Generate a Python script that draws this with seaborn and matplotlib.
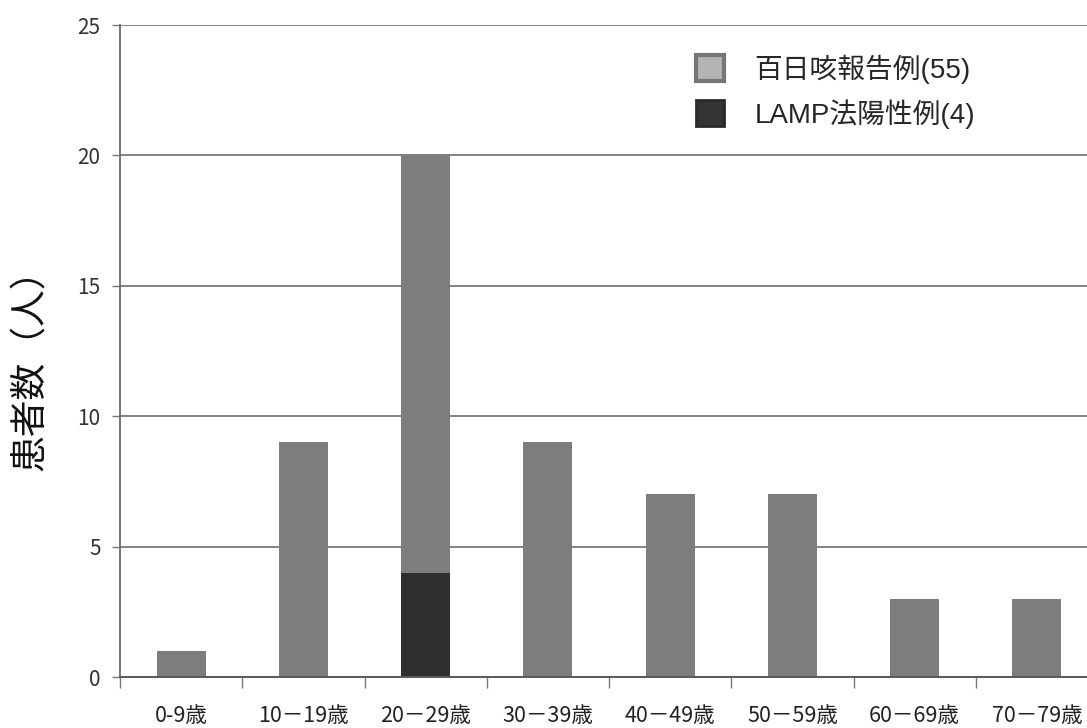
import numpy as np
import pandas as pd
import matplotlib
matplotlib.use("Agg")
import matplotlib.pyplot as plt
from matplotlib.patches import Patch
import seaborn as sns

# Age groups and case counts
age_groups = ["0-9歳", "10－19歳", "20－29歳", "30－39歳",
              "40－49歳", "50－59歳", "60－69歳", "70－79歳"]
pertussis_reports = [1, 9, 16, 9, 7, 7, 3, 3]   # 百日咳報告例 (excluding LAMP-positive)
lamp_positive = [0, 0, 4, 0, 0, 0, 0, 0]        # LAMP法陽性例
legend_labels = ["百日咳報告例(55)", "LAMP法陽性例(4)"]
y_ticks = [0, 5, 10, 15, 20, 25]
y_label = "患者数（人）"

sns.set_style("white")
plt.rcParams["font.family"] = ["Noto Sans CJK JP", "DejaVu Sans"]

df = pd.DataFrame({
    "age": age_groups,
    "total": np.array(pertussis_reports) + np.array(lamp_positive),
    "lamp": lamp_positive,
})

fig = plt.figure(figsize=(10.87, 7.28), dpi=100)
ax = fig.add_axes([120 / 1087, 51 / 728, 978 / 1087, 652 / 728])

bar_gray = "#7d7d7d"
bar_dark = "#2f2f2f"

sns.barplot(data=df, x="age", y="total", color=bar_gray, saturation=1,
            width=0.40, ax=ax, linewidth=0)
sns.barplot(data=df, x="age", y="lamp", color=bar_dark, saturation=1,
            width=0.40, ax=ax, linewidth=0)

ax.set_xlim(-0.5, len(age_groups) - 0.5)
ax.set_ylim(0, 25)
ax.set_yticks(y_ticks)
ax.set_xlabel("")
ax.set_ylabel(y_label, fontsize=26.5, color="#111111")
ax.yaxis.set_label_coords(-0.072, 0.485)

# horizontal gridlines behind the bars
ax.set_axisbelow(True)
ax.yaxis.grid(True, color="#6e6e6e", linewidth=1.2)
ax.xaxis.grid(False)

for side in ("top", "right"):
    ax.spines[side].set_visible(False)
ax.spines["left"].set_color("#6a6a6a")
ax.spines["left"].set_linewidth(1.3)
ax.spines["bottom"].set_color("#5a5a5a")
ax.spines["bottom"].set_linewidth(1.4)

ax.tick_params(axis="y", direction="out", length=6, width=1, color="#777777",
               labelsize=15, labelcolor="#333333", pad=8, left=True)
# category boundaries carry the tick marks; labels sit at the centres
ax.set_xticks(np.arange(len(age_groups) + 1) - 0.5, minor=True)
ax.tick_params(axis="x", which="minor", direction="out", length=8, width=1,
               color="#777777", bottom=True)
ax.tick_params(axis="x", which="major", length=0, labelsize=15.5,
               labelcolor="#222222", pad=20)

handles = [
    Patch(facecolor="#b4b4b4", edgecolor="#757575", linewidth=3),
    Patch(facecolor="#333333", edgecolor="#2a2a2a", linewidth=2),
]
ax.legend(handles, legend_labels, loc="upper left",
          bbox_to_anchor=(0.589, 0.955), frameon=False,
          prop={"family": ["Liberation Sans", "Noto Sans CJK JP"], "size": 20},
          handlelength=1.0, handleheight=1.05, handletextpad=1.1,
          labelspacing=0.55, borderpad=0, borderaxespad=0)

fig.savefig("out.png", dpi=100)
